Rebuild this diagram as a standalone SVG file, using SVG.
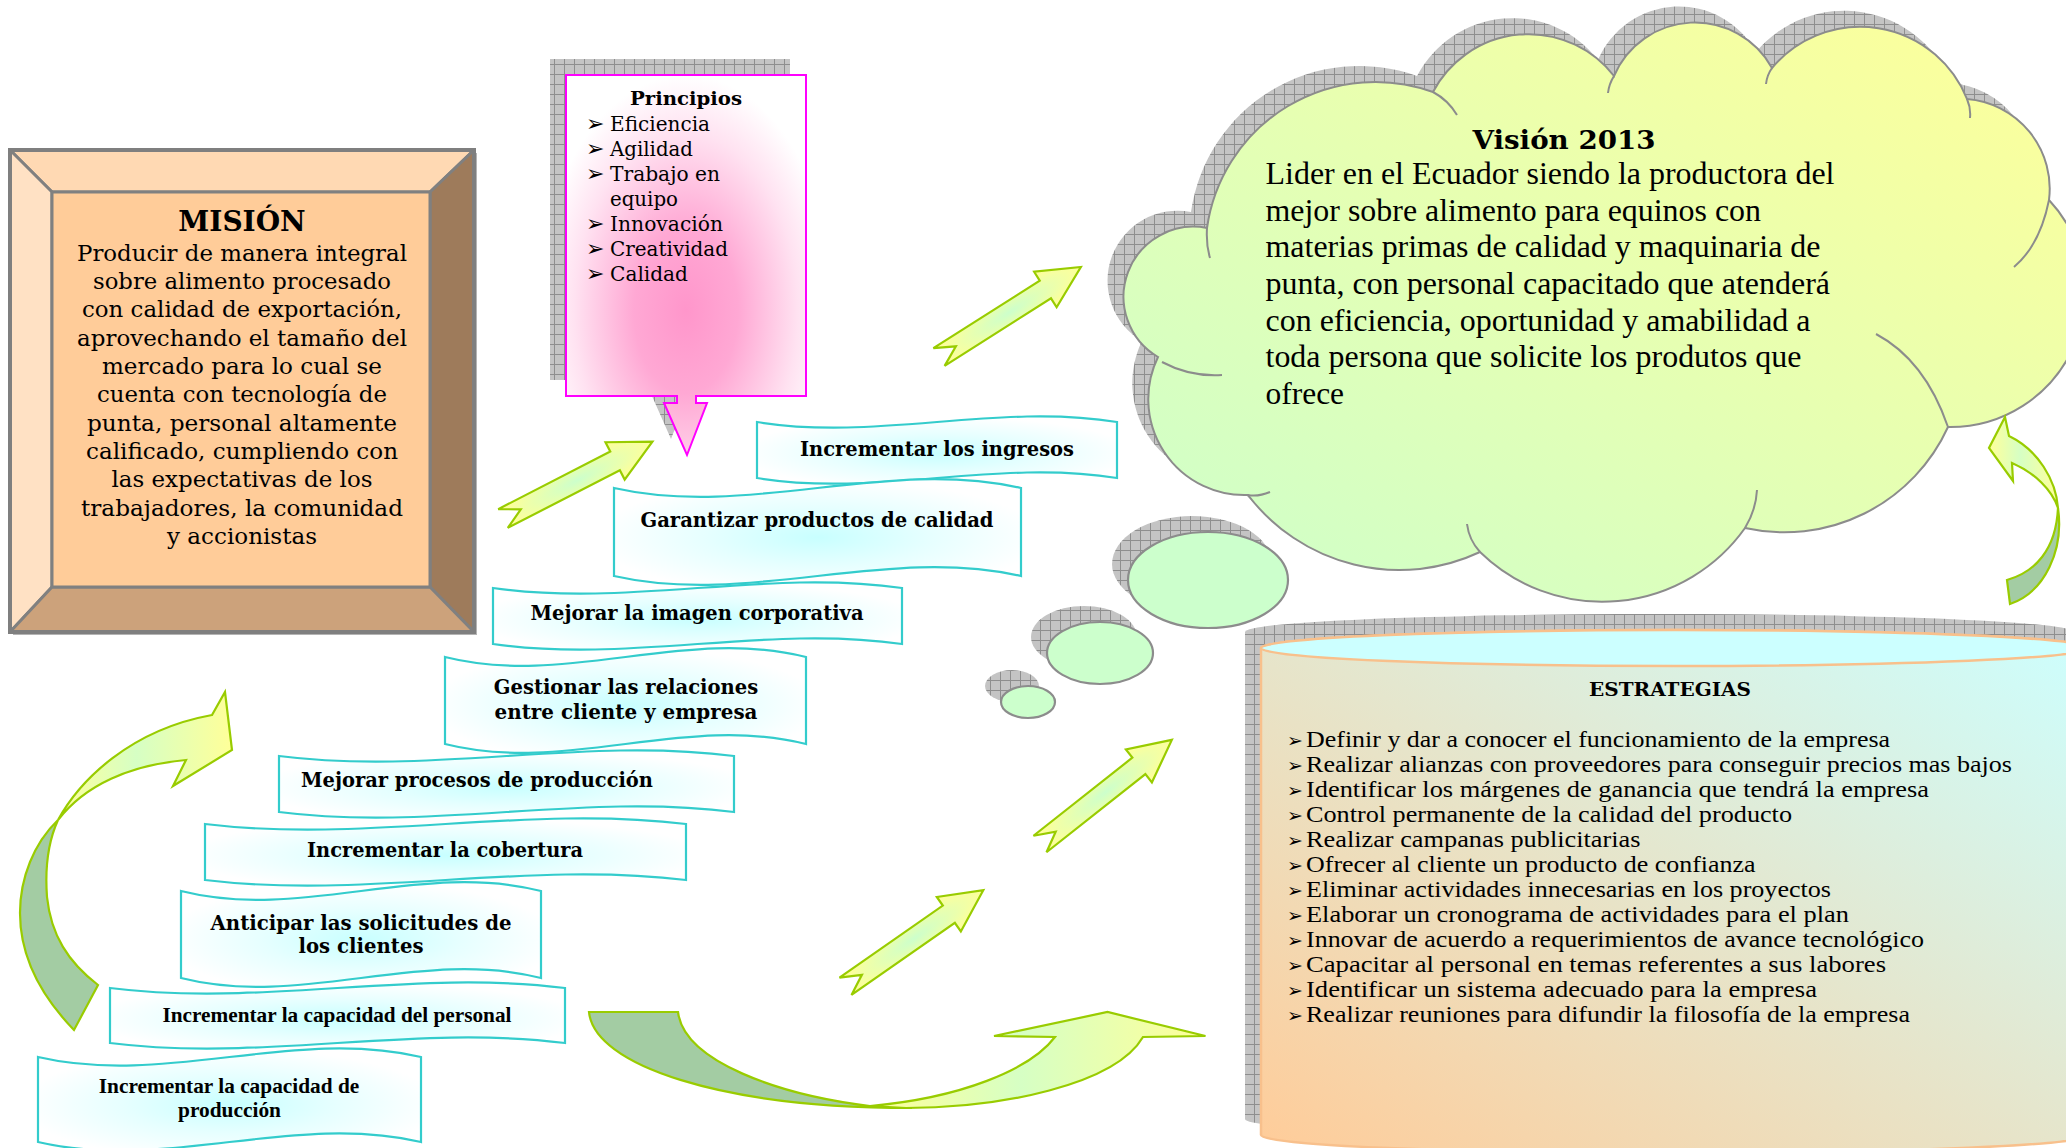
<svg xmlns="http://www.w3.org/2000/svg" width="2066" height="1148" viewBox="0 0 2066 1148">
  <defs>
    <style>
      .bk { font-family: "DejaVu Serif", serif; fill: #000; }
      .bkb { font-family: "DejaVu Serif", serif; font-weight: bold; fill: #000; }
      .tm { font-family: "Liberation Serif", serif; fill: #000; }
      .tmb { font-family: "Liberation Serif", serif; font-weight: bold; fill: #000; }
      .dot { font-family: "DejaVu Sans", sans-serif; fill: #000; }
      .ribbon { fill: url(#ribbonFill); stroke: #33CCCC; stroke-width: 2.2; }
      .bevel { stroke: #808080; stroke-width: 3; stroke-linejoin: round; }
      .arrow { fill: url(#arrowFill); stroke: #99CC00; stroke-width: 2.2; stroke-linejoin: miter; }
      .curveY { stroke: #99CC00; stroke-width: 2.2; stroke-linejoin: miter; }
      .curveG { fill: #A3CCA3; stroke: #99CC00; stroke-width: 2.2; }
      .cloudline { fill: none; stroke: #8C8C8C; stroke-width: 2; }
      .bubble { fill: #CCFFCC; stroke: #8C8C8C; stroke-width: 2.2; }
    </style>
    <pattern id="hatch" width="10" height="10" patternUnits="userSpaceOnUse">
      <rect width="10" height="10" fill="#C4C4C4"/>
      <path d="M0 0.5H10M0.5 0V10" stroke="#8E8E8E" stroke-width="1"/>
    </pattern>
    <radialGradient id="pinkFill" cx="0.5" cy="0.62" r="0.62">
      <stop offset="0" stop-color="#FF96CB"/>
      <stop offset="0.35" stop-color="#FFA8D4"/>
      <stop offset="0.75" stop-color="#FFE2F1"/>
      <stop offset="1" stop-color="#FFFFFF"/>
    </radialGradient>
    <radialGradient id="ribbonFill" cx="0.5" cy="0.55" r="0.55">
      <stop offset="0" stop-color="#C8FFFF"/>
      <stop offset="0.5" stop-color="#E6FFFF"/>
      <stop offset="1" stop-color="#FFFFFF"/>
    </radialGradient>
    <linearGradient id="cloudFill" x1="0" y1="1" x2="1" y2="0">
      <stop offset="0" stop-color="#CCFFCC"/>
      <stop offset="1" stop-color="#FFFF99"/>
    </linearGradient>
    <linearGradient id="drumFill" x1="0" y1="1" x2="1" y2="0">
      <stop offset="0" stop-color="#FFCC99"/>
      <stop offset="1" stop-color="#CCFFFF"/>
    </linearGradient>
    <radialGradient id="arrowFill" cx="0.5" cy="0.5" r="0.5">
      <stop offset="0" stop-color="#CCFFCC"/>
      <stop offset="1" stop-color="#FFFF99"/>
    </radialGradient>
    <linearGradient id="bendFill" x1="0" y1="0" x2="1" y2="0">
      <stop offset="0" stop-color="#FFFF99"/>
      <stop offset="0.45" stop-color="#D6FFC4"/>
      <stop offset="1" stop-color="#FFFF99"/>
    </linearGradient>
    <polygon id="block" points="0,-10.5 126,-10.5 126,-21 168,0 126,21 126,10.5 0,10.5 20,0"/>
  </defs>

  <rect width="2066" height="1148" fill="#FFFFFF"/>

  <!-- Mission: bevelled frame -->
  <g id="mision">
    <rect x="13" y="153" width="464" height="482" fill="#B4B4B4"/>
    <polygon class="bevel" points="10,150 474,150 430,192 52,192" fill="#FFD9B3"/>
    <polygon class="bevel" points="10,150 52,192 52,587 10,632" fill="#FFE1C4"/>
    <polygon class="bevel" points="474,150 474,632 430,587 430,192" fill="#9E7B5B"/>
    <polygon class="bevel" points="10,632 52,587 430,587 474,632" fill="#CCA27B"/>
    <rect class="bevel" x="52" y="192" width="378" height="395" fill="#FFCC99"/>
    <rect x="10" y="150" width="464" height="482" fill="none" stroke="#7F7F7F" stroke-width="4"/>
    <text class="bkb" x="242" y="231" font-size="28" text-anchor="middle">MISIÓN</text>
    <g class="bk" font-size="22" text-anchor="middle">
      <text x="242" y="260.7" textLength="330" lengthAdjust="spacingAndGlyphs">Producir de manera integral</text>
      <text x="242" y="289" textLength="298" lengthAdjust="spacingAndGlyphs">sobre alimento procesado</text>
      <text x="242" y="317.4" textLength="320" lengthAdjust="spacingAndGlyphs">con calidad de exportación,</text>
      <text x="242" y="345.7" textLength="330" lengthAdjust="spacingAndGlyphs">aprovechando el tamaño del</text>
      <text x="242" y="374" textLength="280" lengthAdjust="spacingAndGlyphs">mercado para lo cual se</text>
      <text x="242" y="402.4" textLength="290" lengthAdjust="spacingAndGlyphs">cuenta con tecnología de</text>
      <text x="242" y="430.7" textLength="310" lengthAdjust="spacingAndGlyphs">punta, personal altamente</text>
      <text x="242" y="459" textLength="312" lengthAdjust="spacingAndGlyphs">calificado, cumpliendo con</text>
      <text x="242" y="487.4" textLength="261" lengthAdjust="spacingAndGlyphs">las expectativas de los</text>
      <text x="242" y="515.7" textLength="322" lengthAdjust="spacingAndGlyphs">trabajadores, la comunidad</text>
      <text x="242" y="544" textLength="150" lengthAdjust="spacingAndGlyphs">y accionistas</text>
    </g>
  </g>

  <!-- Principles: callout with pointer -->
  <g id="principios">
    <path d="M566,75H806V396H696V403H707L687,455L664,403H677V396H566Z" fill="url(#hatch)" transform="translate(-16,-16)"/>
    <path d="M566,75H806V396H696V403H707L687,455L664,403H677V396H566Z" fill="url(#pinkFill)" stroke="#FF00FF" stroke-width="2"/>
    <text class="bkb" x="686" y="105" font-size="19" text-anchor="middle" textLength="112" lengthAdjust="spacingAndGlyphs">Principios</text>
    <g class="dot" font-size="22">
      <text x="586" y="131">➢</text>
      <text x="586" y="156">➢</text>
      <text x="586" y="181">➢</text>
      <text x="586" y="231">➢</text>
      <text x="586" y="256">➢</text>
      <text x="586" y="281">➢</text>
    </g>
    <g class="bk" font-size="20">
      <text x="610" y="131" textLength="100" lengthAdjust="spacingAndGlyphs">Eficiencia</text>
      <text x="610" y="156" textLength="83" lengthAdjust="spacingAndGlyphs">Agilidad</text>
      <text x="610" y="181" textLength="110" lengthAdjust="spacingAndGlyphs">Trabajo en</text>
      <text x="610" y="206" textLength="68" lengthAdjust="spacingAndGlyphs">equipo</text>
      <text x="610" y="231" textLength="113" lengthAdjust="spacingAndGlyphs">Innovación</text>
      <text x="610" y="256" textLength="118" lengthAdjust="spacingAndGlyphs">Creatividad</text>
      <text x="610" y="281" textLength="78" lengthAdjust="spacingAndGlyphs">Calidad</text>
    </g>
  </g>

  <!-- Vision: cloud -->
  <g id="vision">
    <path fill="url(#hatch)" transform="translate(-16,-16)" d="M1158,357A70,70 0 0,1 1207,228A170,170 0 0,1 1433,92A108,108 0 0,1 1614,76A88,88 0 0,1 1772,68A115,115 0 0,1 1967,99A90,90 0 0,1 2049,200A135,135 0 0,1 1948,427A180,180 0 0,1 1745,528A175,175 0 0,1 1480,552A190,190 0 0,1 1248,495A96,96 0 0,1 1158,357Z"/>
    <path fill="url(#cloudFill)" stroke="#8C8C8C" stroke-width="2" d="M1158,357A70,70 0 0,1 1207,228A170,170 0 0,1 1433,92A108,108 0 0,1 1614,76A88,88 0 0,1 1772,68A115,115 0 0,1 1967,99A90,90 0 0,1 2049,200A135,135 0 0,1 1948,427A180,180 0 0,1 1745,528A175,175 0 0,1 1480,552A190,190 0 0,1 1248,495A96,96 0 0,1 1158,357Z"/>
    <path class="cloudline" d="M1207,228Q1206,245 1210,258M1162,362Q1190,377 1222,375M1248,495Q1258,497 1270,492M1480,552Q1469,540 1467,524M1745,528Q1756,510 1757,490M1948,427Q1925,360 1876,334M2049,200Q2040,245 2014,267M1967,99Q1971,108 1970,118M1772,68Q1767,75 1766,84M1614,76Q1609,84 1608,93M1433,92Q1448,100 1457,115"/>
    <text class="bkb" x="1564" y="149" font-size="26" text-anchor="middle" textLength="183" lengthAdjust="spacingAndGlyphs">Visión 2013</text>
    <g class="tm" font-size="31">
      <text x="1265.5" y="184" textLength="569" lengthAdjust="spacingAndGlyphs">Lider en el Ecuador siendo la productora del</text>
      <text x="1265.5" y="220.7" textLength="495.5" lengthAdjust="spacingAndGlyphs">mejor sobre alimento para equinos con</text>
      <text x="1265.5" y="257.3" textLength="555" lengthAdjust="spacingAndGlyphs">materias primas de calidad y maquinaria de</text>
      <text x="1265.5" y="294" textLength="564.5" lengthAdjust="spacingAndGlyphs">punta, con personal capacitado que atenderá</text>
      <text x="1265.5" y="330.6" textLength="545" lengthAdjust="spacingAndGlyphs">con eficiencia, oportunidad y amabilidad a</text>
      <text x="1265.5" y="367.3" textLength="536" lengthAdjust="spacingAndGlyphs">toda persona que solicite los produtos que</text>
      <text x="1265.5" y="404" textLength="78.6" lengthAdjust="spacingAndGlyphs">ofrece</text>
    </g>
  </g>

  <!-- Thought bubbles under the cloud -->
  <g id="burbujas">
    <ellipse cx="1192" cy="564" rx="80" ry="48" fill="url(#hatch)"/>
    <ellipse class="bubble" cx="1208" cy="580" rx="80" ry="48"/>
    <ellipse cx="1084" cy="637" rx="53" ry="31" fill="url(#hatch)"/>
    <ellipse class="bubble" cx="1100" cy="653" rx="53" ry="31"/>
    <ellipse cx="1012" cy="686" rx="27" ry="16" fill="url(#hatch)"/>
    <ellipse class="bubble" cx="1028" cy="702" rx="27" ry="16"/>
  </g>

  <!-- Strategies: cylinder -->
  <g id="estrategias">
    <path fill="url(#hatch)" transform="translate(-16,-16)" d="M1261,648A414.5,18 0 0,1 2090,648L2090,1135A414.5,18 0 0,1 1261,1135Z"/>
    <path fill="url(#drumFill)" stroke="#F8C08C" stroke-width="2.5" d="M1261,648A414.5,18 0 0,1 2090,648L2090,1135A414.5,18 0 0,1 1261,1135Z"/>
    <ellipse cx="1675.5" cy="648" rx="414.5" ry="18" fill="#CCFFFF" stroke="#F8C08C" stroke-width="2.5"/>
    <text class="bkb" x="1670" y="696" font-size="19" text-anchor="middle" textLength="162" lengthAdjust="spacingAndGlyphs">ESTRATEGIAS</text>
    <g class="dot" font-size="19">
      <text x="1287" y="747">➢</text>
      <text x="1287" y="772">➢</text>
      <text x="1287" y="797">➢</text>
      <text x="1287" y="822">➢</text>
      <text x="1287" y="847">➢</text>
      <text x="1287" y="872">➢</text>
      <text x="1287" y="897">➢</text>
      <text x="1287" y="922">➢</text>
      <text x="1287" y="947">➢</text>
      <text x="1287" y="972">➢</text>
      <text x="1287" y="997">➢</text>
      <text x="1287" y="1022">➢</text>
    </g>
    <g class="tm" font-size="24">
      <text x="1306" y="747" textLength="584" lengthAdjust="spacingAndGlyphs">Definir y dar a conocer el funcionamiento de la empresa</text>
      <text x="1306" y="772" textLength="706" lengthAdjust="spacingAndGlyphs">Realizar alianzas con proveedores para conseguir precios mas bajos</text>
      <text x="1306" y="797" textLength="623" lengthAdjust="spacingAndGlyphs">Identificar los márgenes de ganancia que tendrá la empresa</text>
      <text x="1306" y="822" textLength="486" lengthAdjust="spacingAndGlyphs">Control permanente de la calidad del producto</text>
      <text x="1306" y="847" textLength="334.5" lengthAdjust="spacingAndGlyphs">Realizar campanas publicitarias</text>
      <text x="1306" y="872" textLength="449.5" lengthAdjust="spacingAndGlyphs">Ofrecer al cliente un producto de confianza</text>
      <text x="1306" y="897" textLength="525" lengthAdjust="spacingAndGlyphs">Eliminar actividades innecesarias en los proyectos</text>
      <text x="1306" y="922" textLength="543" lengthAdjust="spacingAndGlyphs">Elaborar un cronograma de actividades para el plan</text>
      <text x="1306" y="947" textLength="618" lengthAdjust="spacingAndGlyphs">Innovar de acuerdo a requerimientos de avance tecnológico</text>
      <text x="1306" y="972" textLength="580" lengthAdjust="spacingAndGlyphs">Capacitar al personal en temas referentes a sus labores</text>
      <text x="1306" y="997" textLength="511" lengthAdjust="spacingAndGlyphs">Identificar un sistema adecuado para la empresa</text>
      <text x="1306" y="1022" textLength="604" lengthAdjust="spacingAndGlyphs">Realizar reuniones para difundir la filosofía de la empresa</text>
    </g>
  </g>

  <!-- Objective banners (wave shapes) -->
  <g id="obj-ingresos">
    <path class="ribbon" d="M757,422C877,441.6 997,402.4 1117,422L1117,478C997,458.4 877,497.6 757,478Z"/>
    <text class="bkb" x="937" y="456" font-size="19.5" text-anchor="middle" textLength="274" lengthAdjust="spacingAndGlyphs">Incrementar los ingresos</text>
  </g>
  <g id="obj-calidad">
    <path class="ribbon" d="M614,488C749.7,518.8 885.3,457.2 1021,488L1021,576C885.3,545.2 749.7,606.8 614,576Z"/>
    <text class="bkb" x="817" y="527" font-size="19.5" text-anchor="middle" textLength="353" lengthAdjust="spacingAndGlyphs">Garantizar productos de calidad</text>
  </g>
  <g id="obj-imagen">
    <path class="ribbon" d="M493,588C629.3,607.6 765.7,568.4 902,588L902,644C765.7,624.4 629.3,663.6 493,644Z"/>
    <text class="bkb" x="697" y="620" font-size="19.5" text-anchor="middle" textLength="333" lengthAdjust="spacingAndGlyphs">Mejorar la imagen corporativa</text>
  </g>
  <g id="obj-relaciones">
    <path class="ribbon" d="M445,657C565.3,687.5 685.7,626.5 806,657L806,744C685.7,713.5 565.3,774.5 445,744Z"/>
    <text class="bkb" x="626" y="694" font-size="19.5" text-anchor="middle" textLength="264.5" lengthAdjust="spacingAndGlyphs">Gestionar las relaciones</text>
    <text class="bkb" x="626" y="719" font-size="19.5" text-anchor="middle" textLength="263" lengthAdjust="spacingAndGlyphs">entre cliente y empresa</text>
  </g>
  <g id="obj-procesos">
    <path class="ribbon" d="M279,756C430.7,775.6 582.3,736.4 734,756L734,812C582.3,792.4 430.7,831.6 279,812Z"/>
    <text class="bkb" x="477" y="787" font-size="19.5" text-anchor="middle" textLength="352" lengthAdjust="spacingAndGlyphs">Mejorar procesos de producción</text>
  </g>
  <g id="obj-cobertura">
    <path class="ribbon" d="M205,824C365.3,843.6 525.7,804.4 686,824L686,880C525.7,860.4 365.3,899.6 205,880Z"/>
    <text class="bkb" x="445" y="857" font-size="19.5" text-anchor="middle" textLength="276" lengthAdjust="spacingAndGlyphs">Incrementar la cobertura</text>
  </g>
  <g id="obj-solicitudes">
    <path class="ribbon" d="M181,891C301,921.5 421,860.5 541,891L541,978C421,947.5 301,1008.5 181,978Z"/>
    <text class="bkb" x="361" y="930" font-size="19.5" text-anchor="middle" textLength="301" lengthAdjust="spacingAndGlyphs">Anticipar las solicitudes de</text>
    <text class="bkb" x="361" y="953" font-size="19.5" text-anchor="middle" textLength="125" lengthAdjust="spacingAndGlyphs">los clientes</text>
  </g>
  <g id="obj-personal">
    <path class="ribbon" d="M110,988C261.7,1007.3 413.3,968.7 565,988L565,1043C413.3,1023.7 261.7,1062.3 110,1043Z"/>
    <text class="tmb" x="337" y="1022" font-size="21" text-anchor="middle" textLength="349" lengthAdjust="spacingAndGlyphs">Incrementar la capacidad del personal</text>
  </g>
  <g id="obj-produccion">
    <path class="ribbon" d="M38,1057C165.7,1086.8 293.3,1027.2 421,1057L421,1142C293.3,1112.2 165.7,1171.8 38,1142Z"/>
    <text class="tmb" x="229" y="1093" font-size="21" text-anchor="middle" textLength="260.5" lengthAdjust="spacingAndGlyphs">Incrementar la capacidad de</text>
    <text class="tmb" x="229.5" y="1117" font-size="21" text-anchor="middle" textLength="103" lengthAdjust="spacingAndGlyphs">producción</text>
  </g>

  <!-- Connectors: block arrows and bent arrows -->
  <g id="connectors">
    <use href="#block" class="arrow" transform="translate(503,518.5) rotate(-27.2)"/>
    <use href="#block" class="arrow" transform="translate(939,357) rotate(-32.4)"/>
    <use href="#block" class="arrow" transform="translate(1040,844) rotate(-38.3)"/>
    <use href="#block" class="arrow" transform="translate(845.5,986.3) rotate(-34.9)"/>

    <!-- left bent arrow -->
    <path class="curveG" d="M74,1030C45,1000 20,960 20,913C20,878 34,843 58,820C48,842 45,870 47,897C51,935 68,962 98,985Z"/>
    <path class="curveY" fill="url(#bendFill)" d="M58,820C80,780 130,730 212,715L225,692L232,750L173,786L186,760C130,765 85,785 58,820Z"/>

    <!-- bottom bent arrow -->
    <path class="curveG" d="M589,1012L678,1012C684,1062 780,1095 870,1106L912,1108C720,1108 594,1065 589,1012Z"/>
    <path class="curveY" fill="url(#bendFill)" d="M870,1106C960,1098 1030,1070 1055,1037L994,1036L1107.5,1012L1205.5,1036L1143,1037C1115,1085 1000,1108 906,1108Z"/>

    <!-- right bent arrow -->
    <path class="curveG" d="M2058,508C2064,550 2045,592 2010,604L2007,580C2035,572 2056,550 2058,508Z"/>
    <path class="curveY" fill="url(#bendFill)" d="M2005,417L1989,448L2013,481L2012,463C2035,473 2052,490 2058,508C2056,480 2038,450 2009,436Z"/>
  </g>
</svg>
